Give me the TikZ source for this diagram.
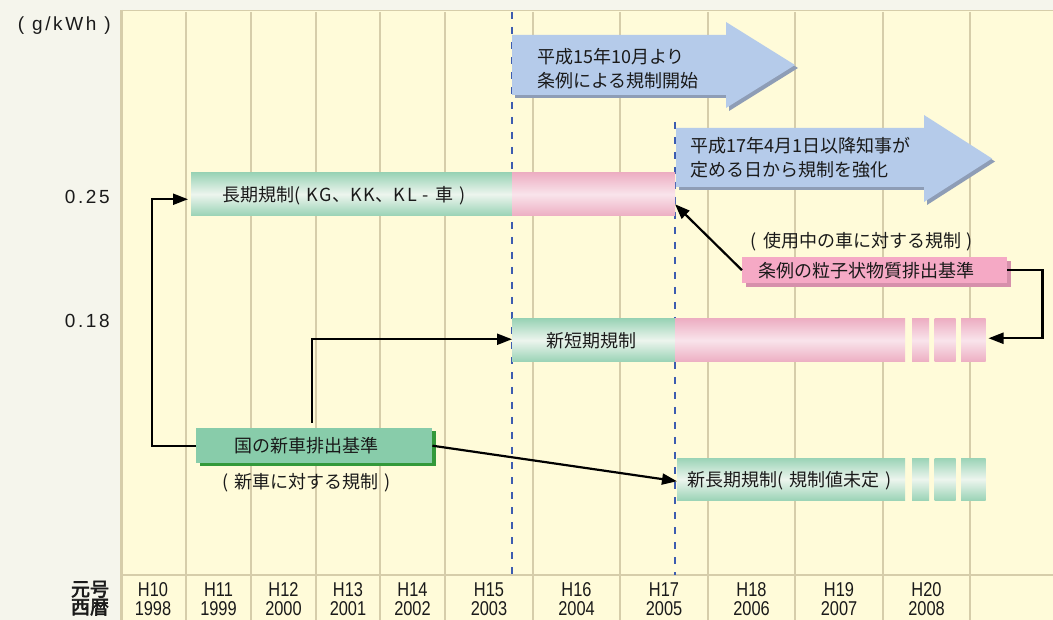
\documentclass[tikz,border=0pt]{standalone}
\usepackage{fontspec}
\setmainfont{Liberation Sans}
\newfontfamily\jp{Noto Sans CJK JP}
\newfontfamily\jpb[FakeBold=3]{Noto Sans CJK JP}
\usetikzlibrary{arrows.meta,shadows}
\definecolor{bgout}{HTML}{F5F5EC}
\definecolor{chart}{HTML}{FFFBD9}
\definecolor{gridc}{HTML}{D6CDAA}
\definecolor{gedge}{HTML}{9AD3B6}
\definecolor{gmid}{HTML}{EDF5EE}
\definecolor{pedge}{HTML}{EDAFC3}
\definecolor{pmid}{HTML}{F9E4EB}
\definecolor{natfill}{HTML}{88CCAA}
\definecolor{natsh}{HTML}{33993A}
\definecolor{pkfill}{HTML}{F5A9C5}
\definecolor{pksh}{HTML}{D690AB}
\definecolor{bfill}{HTML}{B5CBEA}
\definecolor{bsh}{HTML}{8E9DB6}
\definecolor{dblue}{HTML}{3D5CB0}
\definecolor{txt}{HTML}{1A1A1A}
\begin{document}
\begin{tikzpicture}[x=1pt,y=-1pt,
  gbar/.style={anchor=north west, inner sep=0pt, outer sep=0pt, minimum height=42.5pt, shade, top color=gedge, bottom color=gedge, middle color=gmid},
  pbar/.style={anchor=north west, inner sep=0pt, outer sep=0pt, minimum height=42.5pt, shade, top color=pedge, bottom color=pedge, middle color=pmid},
  lbl/.style={font=\jp\fontsize{18}{20}\selectfont, text=txt, inner sep=0pt},
  axl/.style={font=\fontsize{19}{20}\selectfont\addfontfeature{LetterSpace=14}, text=txt, inner sep=0pt, anchor=east},
  yr/.style={font=\fontsize{20}{20}\selectfont\addfontfeature{FakeStretch=0.82}, text=txt, inner sep=0pt, text height=14.5pt, text depth=0pt},
  era/.style={font=\jpb\fontsize{19}{19}\selectfont, text=txt, inner sep=0pt, text height=15pt, text depth=1pt},
  conn/.style={draw=black, line width=2.2pt, -{Triangle[length=15pt,width=11pt]}},
  gridl/.style={draw=gridc, line width=1.3pt},
  vdash/.style={draw=dblue, line width=2pt, dash pattern=on 7pt off 8pt},
  barrow/.style={fill=bfill, general shadow={fill=bsh, shadow xshift=3pt, shadow yshift=-3pt}}
]
\useasboundingbox (0,0) rectangle (1053,620);
\fill[bgout] (0,0) rectangle (1053,620);
\fill[chart] (120,10) rectangle (1053,620);
% grid
\foreach \x in {186,251,316,380,445,533,620,708,795,883,970}
  \draw[gridl] (\x,12) -- (\x,620);
\draw[draw=gridc, line width=1.6pt] (120,10.5) -- (1053,10.5);
\draw[draw=gridc, line width=2.6pt] (121.3,10) -- (121.3,620);
\draw[draw=gridc, line width=2pt] (120,575) -- (1053,575);
% dashed markers
\draw[vdash] (512,12) -- (512,575);
\draw[vdash] (675,122) -- (675,575);
% blue arrows
\fill[barrow] (512,35) -- (726,35) -- (726,22) -- (795,65) -- (726,108) -- (726,95) -- (512,95) -- cycle;
\fill[barrow] (676,128) -- (924,128) -- (924,115) -- (992,158.5) -- (924,202) -- (924,187) -- (676,187) -- cycle;
\node[lbl, anchor=west] (a1t1) at (537,57) {平成15年10月より};
\node[lbl, anchor=west] (a1t2) at (537,81) {条例による規制開始};
\node[lbl, anchor=west] (a2t1) at (690,146) {平成17年4月1日以降知事が};
\node[lbl, anchor=west] (a2t2) at (690,170) {定める日から規制を強化};
% long-term bar
\node[gbar, minimum width=321pt] (ltg) at (191,173) {};
\node[pbar, minimum width=163pt] (lpk) at (512,173) {};
\node[lbl, anchor=west] (ltt) at (222,196) {長期規制(\hspace{6pt}K\hspace{2pt}G、K\hspace{2pt}K、K\hspace{2pt}L\hspace{6pt}-\hspace{6pt}車\hspace{6pt})};
% new short-term bar
\node[gbar, minimum width=163pt] (nst) at (512,319) {};
\node[pbar, minimum width=230pt] (spk) at (675,319) {};
\node[pbar, minimum width=17pt] (sd1) at (912,319) {};
\node[pbar, minimum width=21pt] (sd2) at (934.5,319) {};
\node[pbar, minimum width=24.5pt] (sd3) at (961,319) {};
\node[lbl, anchor=west] (nstt) at (546,341) {新短期規制};
% new long-term bar
\node[gbar, minimum width=228pt] (nlt) at (677,458) {};
\node[gbar, minimum width=17pt] (nd1) at (912,458) {};
\node[gbar, minimum width=21pt] (nd2) at (934.5,458) {};
\node[gbar, minimum width=24.5pt] (nd3) at (961,458) {};
\node[lbl, anchor=west] (nltt) at (687,481) {新長期規制(\hspace{6pt}規制値未定\hspace{6pt})};
% national standard box
\node[anchor=north west, inner sep=0pt, minimum width=236pt, minimum height=35pt, fill=natfill,
  general shadow={fill=natsh, shadow xshift=4pt, shadow yshift=-3pt}] (nat) at (196,428) {};
\node[lbl, anchor=west] (natt) at (234,446) {国の新車排出基準};
\node[lbl] (natc) at (307,483) {(\hspace{6pt}新車に対する規制\hspace{6pt})};
% ordinance PM standard box
\node[anchor=north west, inner sep=0pt, minimum width=265pt, minimum height=26pt, fill=pkfill,
  general shadow={fill=pksh, shadow xshift=4pt, shadow yshift=-4pt}] (pk) at (742,257) {};
\node[lbl, anchor=west] (pkt) at (758,271) {条例の粒子状物質排出基準};
\node[lbl] (pkc) at (862,242) {(\hspace{6pt}使用中の車に対する規制\hspace{6pt})};
% connectors
\draw[conn, shorten >=3pt] (nat.west) -- ++(-44,0) |- ([yshift=-5pt]ltg.west);
\draw[conn, shorten <=5pt] ([xshift=-2pt]nat.north) |- ([yshift=1pt]nst.west);
\draw[conn] (nat.east) -- ([yshift=-2pt]nlt.west);
\draw[conn] (pk.west) -- ([yshift=-10pt]lpk.east);
\draw[conn, shorten >=3pt] (pk.east) -- ++(35,0) |- ([yshift=2pt]sd3.east);
% axis labels
\node[axl] (unit) at (111,26) {( g/kWh )};
\node[axl] (v25) at (110,197) {0.25};
\node[axl] (v18) at (110,321) {0.18};
\node[era] (gengo) at (90,589) {元号};
\node[era] (seireki) at (90,607) {西暦};
\foreach \x/\h/\y in {153/H10/1998, 218.5/H11/1999, 283.5/H12/2000, 348/H13/2001, 412.5/H14/2002, 489/H15/2003, 576.5/H16/2004, 664/H17/2005, 751.5/H18/2006, 839/H19/2007, 926.5/H20/2008}{
  \node[yr] (h\h) at (\x,589) {\h};
  \node[yr] (y\y) at (\x,608) {\y};
}
\end{tikzpicture}
\end{document}
